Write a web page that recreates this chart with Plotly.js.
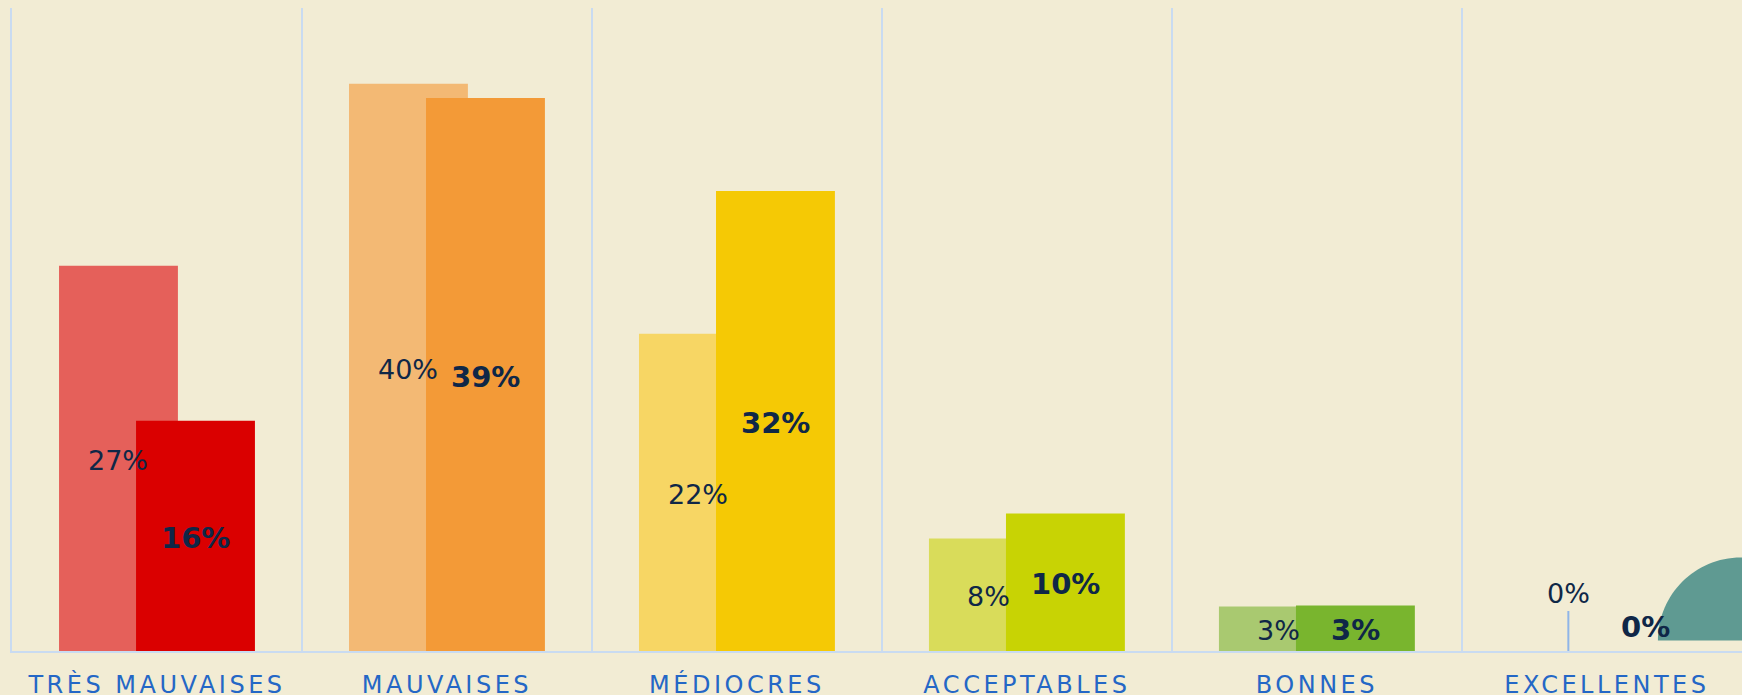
<!DOCTYPE html>
<html>
<head>
<meta charset="utf-8">
<script src="https://cdn.plot.ly/plotly-3.0.1.min.js"></script>
<style>
  html, body { margin: 0; padding: 0; background: #f2ecd4; }
  #chart { width: 1742px; height: 695px; }
  .xtick text { letter-spacing: 3.5px; }
</style>
</head>
<body>
<div id="chart"></div>
<script>
// ---- Data ----
const categories = ["TRÈS MAUVAISES", "MAUVAISES", "MÉDIOCRES", "ACCEPTABLES", "BONNES", "EXCELLENTES"];
const previousValues = [26.96, 39.69, 22.2, 7.87, 3.11, 0];
const currentValues  = [16.12, 38.7, 32.2, 9.62, 3.18, 0];
const previousLabels = ["27%", "40%", "22%", "8%", "3%", "0%"];
const currentLabels  = ["16%", "39%", "32%", "10%", "3%", "0%"];
const previousStem   = [0, 0, 0, 0, 0, 2.8];   // thin marker drawn for the empty bar
const previousColors = ["#e5605a", "#f3b974", "#f7d664", "#d9dc5a", "#a9c970", "#a9cfc9"];
const currentColors  = ["#da0000", "#f39a37", "#f5c905", "#c8d304", "#79b52e", "#5f9a92"];

// ---- Style ----
const BAR_W = 0.41;
const SHIFT = 0.1328;
const labelColor = "#0f2747";
const gridColor = "#c9dbf1";

const traces = [
  {
    type: "bar", x: categories, y: previousValues,
    width: BAR_W, offset: -SHIFT - BAR_W / 2,
    marker: { color: previousColors, line: { width: 0 } },
    error_y: { type: "data", symmetric: false, array: previousStem,
               arrayminus: previousStem.map(() => 0), width: 0, thickness: 2, color: "#8fb5e8" },
    hoverinfo: "skip", showlegend: false
  },
  {
    type: "bar", x: categories, y: currentValues,
    width: BAR_W, offset: SHIFT - BAR_W / 2,
    marker: { color: currentColors, line: { width: 0 } },
    hoverinfo: "skip", showlegend: false
  }
];

// label positions: centre of bar, or just above the axis for empty bars
const annotations = [];
categories.forEach((c, i) => {
  const pv = previousValues[i], cv = currentValues[i];
  annotations.push({
    x: i - SHIFT, y: pv > 0 ? pv / 2 : 4.16, xref: "x", yref: "y", yshift: -2,
    text: previousLabels[i], showarrow: false,
    font: { family: "DejaVu Sans, Verdana, sans-serif", size: 27, color: labelColor },
    xanchor: "center", yanchor: "middle"
  });
  annotations.push({
    x: i + SHIFT, y: cv > 0 ? cv / 2 : 1.8, xref: "x", yref: "y", yshift: -2,
    text: "<b>" + currentLabels[i] + "</b>", showarrow: false,
    font: { family: "DejaVu Sans, Verdana, sans-serif", size: 29, color: labelColor },
    xanchor: "center", yanchor: "middle"
  });
});

const layout = {
  width: 1742, height: 695,
  margin: { l: 12, r: 0, t: 8, b: 44, pad: 0 },
  paper_bgcolor: "#f2ecd4", plot_bgcolor: "#f2ecd4",
  barmode: "overlay",
  xaxis: {
    type: "category", range: [-0.5, 5.466],
    tickson: "boundaries", ticks: "", showgrid: true, gridcolor: gridColor, gridwidth: 2,
    showline: true, linecolor: gridColor, linewidth: 2,
    tickfont: { family: "DejaVu Sans, Verdana, sans-serif", size: 24, color: "#2467c6" },
    ticklabelstandoff: 11,
    zeroline: false, fixedrange: true
  },
  yaxis: {
    range: [0, 45], showgrid: false, zeroline: false, showticklabels: false,
    showline: true, linecolor: gridColor, linewidth: 2, ticks: "", fixedrange: true
  },
  annotations: annotations,
  shapes: [
    {
      type: "path", xref: "x", yref: "y", layer: "above",
      path: "M 5.176,0.73 C 5.176,3.94 5.304,6.54 5.462,6.54 L 5.6,6.54 L 5.6,0.73 Z",
      fillcolor: "#5f9a92", line: { width: 0 }
    }
  ],
  showlegend: false
};

Plotly.newPlot("chart", traces, layout, { displayModeBar: false, staticPlot: true });
</script>
</body>
</html>
